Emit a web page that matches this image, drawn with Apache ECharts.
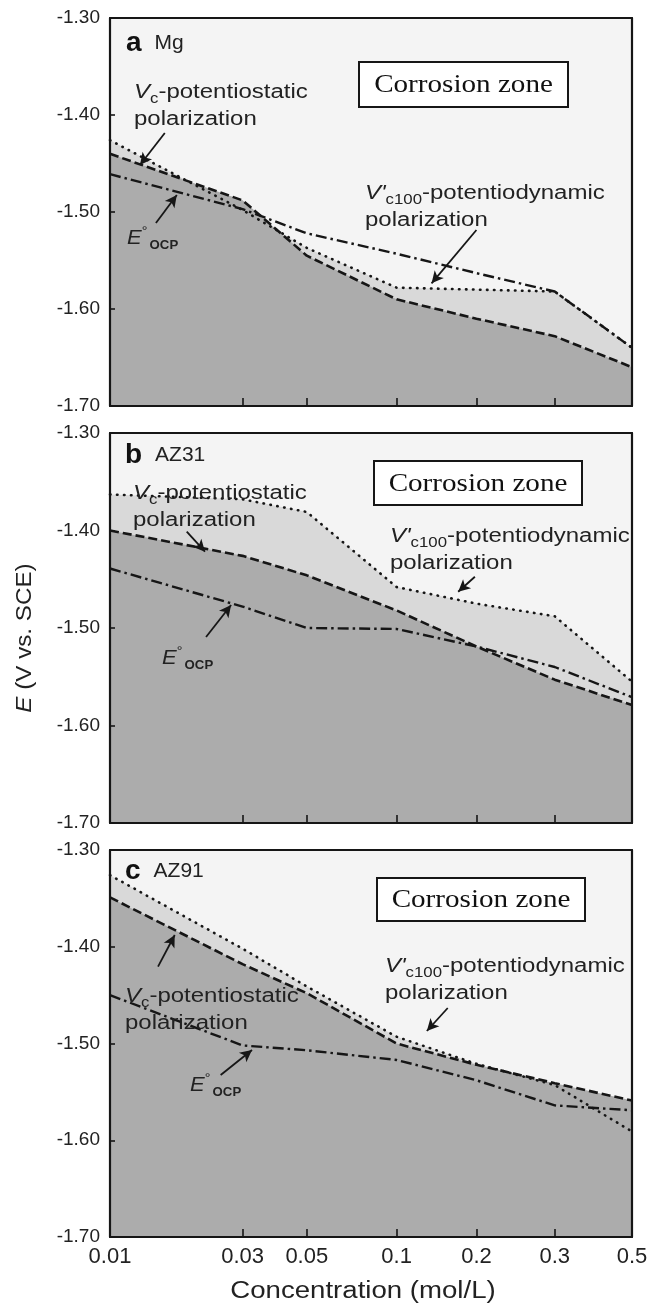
<!DOCTYPE html>
<html><head><meta charset="utf-8">
<script src="https://cdn.jsdelivr.net/npm/echarts@6/dist/echarts.min.js"></script>
<style>html,body{margin:0;padding:0;background:#fff}#c{width:652px;height:1305px}</style>
</head><body><div id="c"></div>
<script>
// ---- data ----
const concentrations = [0.01, 0.03, 0.05, 0.1, 0.2, 0.3, 0.5];
const tickLabels = ['0.01', '0.03', '0.05', '0.1', '0.2', '0.3', '0.5'];
// non-uniform concentration scale of the original figure (axis units 0..100)
const axisStops = [0, 25.4, 37.7, 54.9, 70.2, 85.2, 100];
const yTicks = [-1.70, -1.60, -1.50, -1.40, -1.30];

// (a) Mg
const mgVc   = [-1.440, -1.488, -1.545, -1.590, -1.610, -1.628, -1.660];
const mgVp   = [-1.426, -1.498, -1.537, -1.578, -1.580, -1.582, -1.640];
const mgEocp = [-1.461, -1.497, -1.522, -1.543, -1.563, -1.582, -1.640];
// (b) AZ31
const az31Vc   = [-1.400, -1.426, -1.446, -1.482, -1.519, -1.553, -1.579];
const az31Vp   = [-1.363, -1.368, -1.381, -1.458, -1.475, -1.488, -1.555];
const az31Eocp = [-1.439, -1.478, -1.500, -1.501, -1.519, -1.540, -1.571];
// (c) AZ91
const az91Vc   = [-1.349, -1.418, -1.448, -1.500, -1.522, -1.541, -1.559];
const az91Vp   = [-1.326, -1.402, -1.441, -1.493, -1.521, -1.543, -1.591];
const az91Eocp = [-1.450, -1.502, -1.507, -1.517, -1.538, -1.564, -1.569];

// ---- styling ----
const BG = '#f4f4f4', LIGHT = '#d9d9d9', DARK = '#acacac', INK = '#161616';
const SANS = 'Liberation Sans, Arial, sans-serif';
const SERIF = 'Liberation Serif, Times New Roman, serif';

const panels = [
  { name: 'Mg', letter: 'a', vc: mgVc, vp: mgVp, e: mgEocp, top: 18, height: 388,
    arrows: [[[10.5, -1.4186], [5.74, -1.4515]], [[8.8, -1.5113], [12.8, -1.4825]], [[70.2, -1.5186], [61.6, -1.5735]]] },
  { name: 'AZ31', letter: 'b', vc: az31Vc, vp: az31Vp, e: az31Eocp, top: 433, height: 390,
    arrows: [[[14.7, -1.4012], [18.2, -1.4217]], [[18.4, -1.5092], [23.2, -1.4764]], [[69.9, -1.4474], [66.7, -1.4628]]] },
  { name: 'AZ91', letter: 'c', vc: az91Vc, vp: az91Vp, e: az91Eocp, top: 850, height: 387,
    arrows: [[[9.2, -1.4206], [12.4, -1.3879]], [[21.2, -1.5326], [27.2, -1.5067]], [[64.7, -1.4633], [60.7, -1.4871]]] }
];

const pairs = arr => arr.map((v, i) => [axisStops[i], v]);

const grid = [], xAxis = [], yAxis = [], series = [];
panels.forEach((p, i) => {
  grid.push({ left: 110, width: 522, top: p.top, height: p.height, show: true, backgroundColor: BG, borderWidth: 0 });
  const last = i === panels.length - 1;
  xAxis.push({
    gridIndex: i, type: 'value', min: 0, max: 100, z: 10,
    axisLine: { show: true, onZero: false, lineStyle: { color: INK, width: 2.2 } },
    axisTick: { show: true, inside: true, length: 8, customValues: axisStops.slice(1, -1), lineStyle: { color: INK, width: 1.6 } },
    axisLabel: { show: last, customValues: axisStops, margin: 9, fontSize: 22, color: '#222', fontFamily: SANS,
      formatter: v => { const k = axisStops.indexOf(v); return k >= 0 ? tickLabels[k] : ''; } },
    splitLine: { show: false }
  });
  xAxis.push({
    gridIndex: i, type: 'value', min: 0, max: 100, position: 'top', z: 10,
    axisLine: { show: true, onZero: false, lineStyle: { color: INK, width: 2.2 } },
    axisTick: { show: false }, axisLabel: { show: false }, splitLine: { show: false }
  });
  yAxis.push({
    gridIndex: i, type: 'value', min: -1.7, max: -1.3, interval: 0.1, z: 10,
    axisLine: { show: true, onZero: false, lineStyle: { color: INK, width: 2.2 } },
    axisTick: { show: true, inside: true, length: 5, lineStyle: { color: INK, width: 1.6 } },
    axisLabel: { margin: 10, fontSize: 19, color: '#222', fontFamily: SANS, padding: [4, 0, 0, 0], formatter: v => v.toFixed(2) },
    splitLine: { show: false }
  });
  yAxis.push({
    gridIndex: i, type: 'value', min: -1.7, max: -1.3, position: 'right', z: 10,
    axisLine: { show: true, onZero: false, lineStyle: { color: INK, width: 2.2 } },
    axisTick: { show: false }, axisLabel: { show: false }, splitLine: { show: false }
  });
  const xi = 2 * i, yi = 2 * i;
  const base = { type: 'line', xAxisIndex: xi, yAxisIndex: yi, symbol: 'none', silent: true };
  series.push(Object.assign({}, base, { data: pairs(p.vp), lineStyle: { width: 0 }, areaStyle: { color: LIGHT, opacity: 1, origin: 'start' }, z: 1 }));
  series.push(Object.assign({}, base, { data: pairs(p.vc), lineStyle: { width: 0 }, areaStyle: { color: DARK, opacity: 1, origin: 'start' }, z: 2 }));
  series.push(Object.assign({}, base, { data: pairs(p.e), z: 3, lineStyle: { color: INK, width: 2.4, type: [11, 4, 2.5, 4] } }));
  series.push(Object.assign({}, base, { data: pairs(p.vc), z: 3, lineStyle: { color: INK, width: 2.6, type: [9, 4] } }));
  series.push(Object.assign({}, base, { data: pairs(p.vp), z: 3, lineStyle: { color: INK, width: 2.6, type: [0.5, 6.5], cap: 'round' },
    markLine: { silent: true, symbol: ['none', 'arrow'], symbolSize: [9, 12], label: { show: false },
      lineStyle: { color: INK, width: 1.8, type: 'solid' },
      data: p.arrows.map(a => [{ coord: a[0] }, { coord: a[1] }]) } }));
});

// ---- annotation text ----
const richBase = {
  n: { fontSize: 20, fontFamily: SANS, fill: '#222' },
  i: { fontSize: 20, fontFamily: SANS, fontStyle: 'italic', fill: '#222' },
  sub: { fontSize: 14, fontFamily: SANS, fill: '#222', verticalAlign: 'bottom', padding: [6, 0, 0, 0] },
  sup: { fontSize: 13, fontFamily: SANS, fill: '#222', verticalAlign: 'top' },
  osub: { fontSize: 12, fontFamily: SANS, fontWeight: 'bold', fill: '#222', verticalAlign: 'bottom', padding: [8, 0, 0, 2] }
};
function txt(x, y, text, sx) {
  return { type: 'text', x: x, y: y, scaleX: sx || 1.2, z: 50,
    style: { text: text, rich: richBase, fontSize: 20, fontFamily: SANS, fill: '#222', lineHeight: 27, verticalAlign: 'top', align: 'left' } };
}
function box(x, y, w, h, label) {
  return { type: 'group', x: x, y: y, z: 50, children: [
    { type: 'rect', shape: { x: 0, y: 0, width: w, height: h }, style: { fill: '#fff', stroke: INK, lineWidth: 2 } },
    { type: 'text', x: w / 2, y: h / 2 + 1, scaleX: 1.12,
      style: { text: label, fontSize: 26, fontFamily: SERIF, fill: '#111', align: 'center', verticalAlign: 'middle' } }
  ] };
}
function head(x, y, letter, name) {
  return { type: 'text', x: x, y: y, z: 50,
    style: { text: '{b|' + letter + '}{m|' + name + '}', verticalAlign: 'middle', align: 'left',
      rich: { b: { fontSize: 28, fontWeight: 'bold', fontFamily: SANS, fill: '#111' },
              m: { fontSize: 21, fontFamily: SANS, fill: '#222', padding: [0, 0, 0, 13] } } } };
}
const vcText = '{i|V}{sub|c}{n|-potentiostatic}\n{n|polarization}';
const vpText = "{i|V'}{sub|c100}{n|-potentiodynamic}\n{n|polarization}";
const eText = '{i|E}{sup|°}{osub|OCP}';

const graphic = [
  head(126, 43, 'a', 'Mg'),
  box(359, 62, 209, 45, 'Corrosion zone'),
  box(151, 334, 223, 43, 'Passivation zone'),
  txt(134, 79, vcText),
  txt(127, 225, eText, 1.1),
  txt(365, 180, vpText),

  head(125, 455, 'b', 'AZ31'),
  box(374, 461, 208, 44, 'Corrosion zone'),
  box(163, 713, 225, 41, 'Passivation zone'),
  txt(133, 480, vcText),
  txt(162, 645, eText, 1.1),
  txt(390, 523, vpText),

  head(125, 871, 'c', 'AZ91'),
  box(377, 878, 208, 43, 'Corrosion zone'),
  box(170, 1148, 225, 42, 'Passivation zone'),
  txt(125, 983, vcText),
  txt(190, 1072, eText, 1.1),
  txt(385, 953, vpText),

  { type: 'text', x: 25, y: 638, rotation: Math.PI / 2, scaleX: 1.1, z: 50,
    style: { text: '{i|E}{n| (V vs. SCE)}', align: 'center', verticalAlign: 'middle',
      rich: { i: { fontSize: 22, fontStyle: 'italic', fontFamily: SANS, fill: '#222' },
              n: { fontSize: 22, fontFamily: SANS, fill: '#222' } } } },
  { type: 'text', x: 363, y: 1292, scaleX: 1.2, z: 50,
    style: { text: 'Concentration (mol/L)', align: 'center', verticalAlign: 'middle',
      fontSize: 23, fontFamily: SANS, fill: '#222' } }
];

const chart = echarts.init(document.getElementById('c'));
chart.setOption({ animation: false, backgroundColor: '#fff', grid, xAxis, yAxis, series, graphic });
</script></body></html>
